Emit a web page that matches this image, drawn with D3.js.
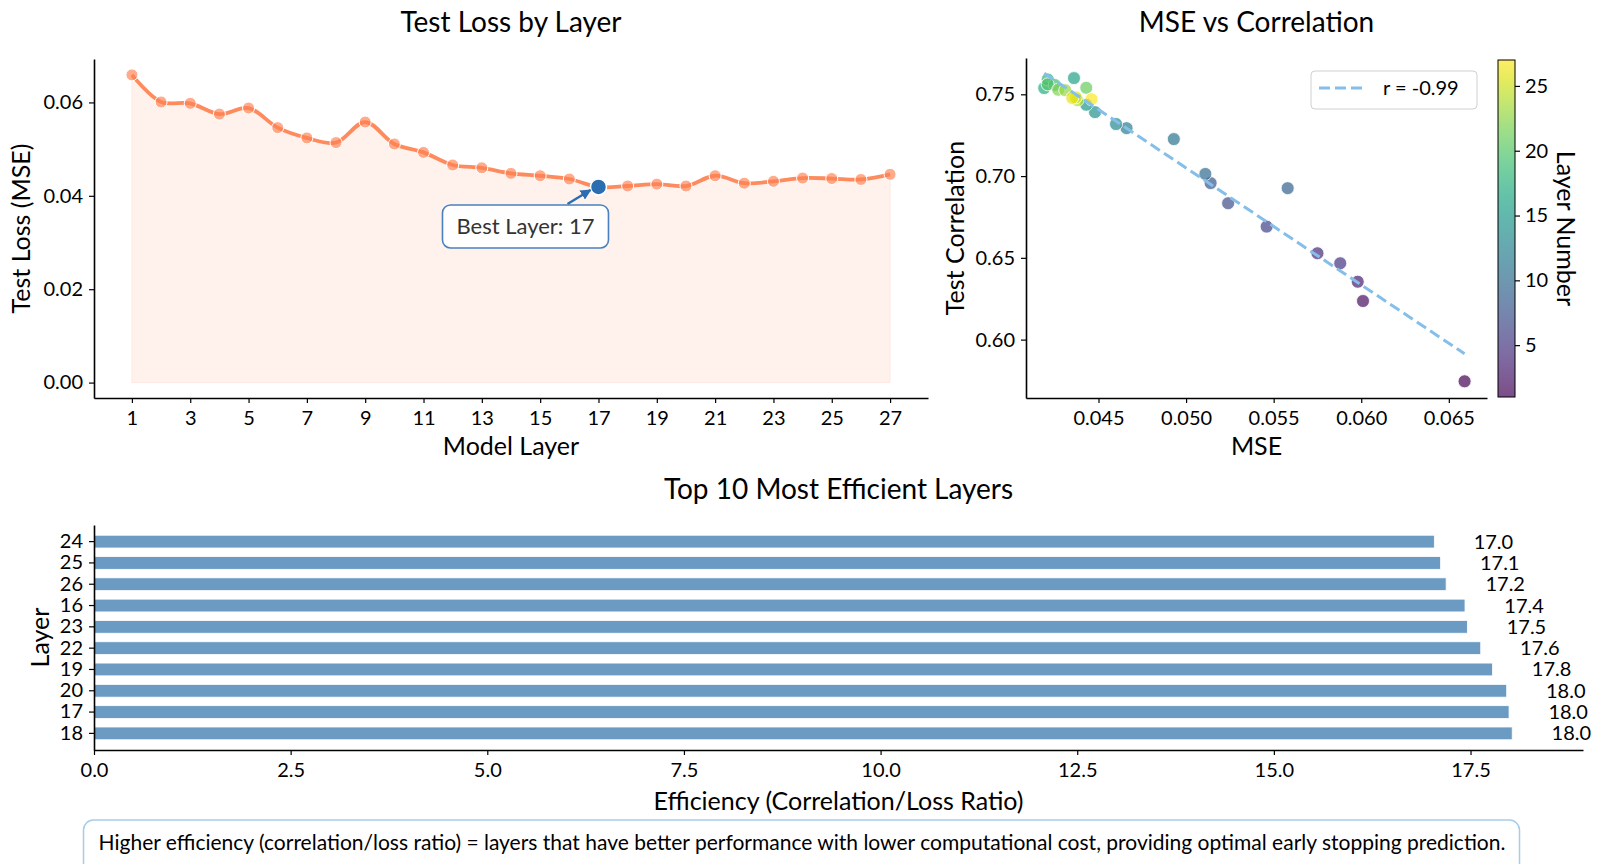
<!DOCTYPE html>
<html>
<head>
<meta charset="utf-8">
<script src="https://cdn.jsdelivr.net/npm/d3@7"></script>
<style>
body { margin: 0; background: #fff; }
svg text { font-family: Lato, "DejaVu Sans", sans-serif; fill: #000; }
</style>
</head>
<body>
<div id="visContainer"></div>
<script>
'use strict';

// data
var layers = [1, 2, 3, 4, 5, 6, 7, 8, 9, 10, 11, 12, 13, 14, 15, 16, 17, 18, 19, 20, 21, 22, 23, 24, 25, 26, 27];
var testLoss = [0.0659, 0.0601, 0.0598, 0.0575, 0.0588, 0.0546, 0.0524, 0.0514, 0.0558, 0.0511, 0.0493, 0.0466, 0.0460, 0.0448,
                0.0443, 0.0436, 0.0419, 0.0421, 0.0425, 0.0421, 0.0443, 0.0427, 0.0431, 0.0438, 0.0437, 0.0435, 0.0446];
var testCorr = [0.5745, 0.6236, 0.6354, 0.6528, 0.6467, 0.6691, 0.6834, 0.6957, 0.6926, 0.7013, 0.7226, 0.7293, 0.7318, 0.7391,
                0.7436, 0.7599, 0.7538, 0.7591, 0.7557, 0.7561, 0.7540, 0.7528, 0.7525, 0.7464, 0.7481, 0.7478, 0.7470];
var effLayers = [24, 25, 26, 16, 23, 22, 19, 20, 17, 18];   // top to bottom
var effValues = [17.04, 17.12, 17.19, 17.43, 17.46, 17.63, 17.78, 17.96, 17.99, 18.03];

var layerTicks = [1, 3, 5, 7, 9, 11, 13, 15, 17, 19, 21, 23, 25, 27];
var lossTicks = [0, 0.02, 0.04, 0.06];
var mseTicks = [0.045, 0.050, 0.055, 0.060, 0.065];
var corrTicks = [0.60, 0.65, 0.70, 0.75];
var cbarTicks = [5, 10, 15, 20, 25];
var effTicks = [0, 2.5, 5, 7.5, 10, 12.5, 15, 17.5];

var bestLayer = 17;
var rLabel = 'r = -0.99';
var noteText = 'Higher efficiency (correlation/loss ratio) = layers that have better performance with lower computational cost, providing optimal early stopping prediction.';

var width = 1600;
var height = 864;
var svg = d3.select('#visContainer')
    .append('svg')
    .attr('width', width)
    .attr('height', height);

// panel frames
var lossBox = { left: 94, right: 928, top: 59, bottom: 398 };
var scatBox = { left: 1026, right: 1487, top: 58, bottom: 398 };
var cbarBox = { left: 1498, right: 1515, top: 60, bottom: 397 };
var effBox = { left: 94, right: 1583, top: 525, bottom: 750 };

var tickFont = 20;
var labelFont = 25;
var titleFont = 28;

function styleAxis(g) {
    g.attr('font-family', null).attr('font-size', null);
    g.selectAll('text').style('font-size', tickFont + 'px');
    g.selectAll('.tick line').attr('stroke-width', 1.2);
    g.select('.domain').attr('stroke-width', 1.6);
}

function addText(x, y, txt, size, anchor) {
    return svg.append('text')
        .attr('x', x).attr('y', y)
        .attr('text-anchor', anchor || 'middle')
        .style('font-size', size + 'px')
        .text(txt);
}

function addVText(x, y, txt, size, angle) {
    return svg.append('text')
        .attr('transform', 'translate(' + x + ',' + y + ') rotate(' + angle + ')')
        .attr('text-anchor', 'middle')
        .attr('dy', '0.35em')
        .style('font-size', size + 'px')
        .text(txt);
}

/* ---------- Test loss by layer ---------- */
function drawLoss() {
    var x = d3.scaleLinear().domain([-0.3, 28.3]).range([lossBox.left, lossBox.right]);
    var y = d3.scaleLinear().domain([-0.0033, 0.0693]).range([lossBox.bottom, lossBox.top]);
    var pts = layers.map(function(l, i) { return { layer: l, loss: testLoss[i] }; });

    var area = d3.area()
        .x(function(d) { return x(d.layer); })
        .y0(y(0))
        .y1(function(d) { return y(d.loss); })
        .curve(d3.curveCatmullRom);
    svg.append('path')
        .attr('d', area(pts))
        .attr('fill', '#ff7f50').attr('fill-opacity', 0.1)
        .attr('stroke', '#ff7f50').attr('stroke-opacity', 0.12);

    var line = d3.line()
        .x(function(d) { return x(d.layer); })
        .y(function(d) { return y(d.loss); })
        .curve(d3.curveCatmullRom);
    svg.append('path')
        .attr('d', line(pts))
        .attr('fill', 'none')
        .attr('stroke', '#fd8b5e')
        .attr('stroke-width', 3.8);

    svg.append('g').selectAll('circle')
        .data(pts.filter(function(d) { return d.layer !== bestLayer; }))
        .enter().append('circle')
        .attr('cx', function(d) { return x(d.layer); })
        .attr('cy', function(d) { return y(d.loss); })
        .attr('r', 6)
        .attr('fill', '#ff7f50').attr('fill-opacity', 0.65)
        .attr('stroke', '#fff').attr('stroke-width', 1);

    var best = pts[bestLayer - 1];
    var bx = x(best.layer), by = y(best.loss);
    svg.append('circle')
        .attr('cx', bx).attr('cy', by).attr('r', 8)
        .attr('fill', '#2a6db1')
        .attr('stroke', '#fff').attr('stroke-width', 1.5);

    // annotation box + arrow
    svg.append('defs').append('marker')
        .attr('id', 'arrowHead')
        .attr('viewBox', '0 0 10 10').attr('refX', 9).attr('refY', 5)
        .attr('markerWidth', 4.5).attr('markerHeight', 4.5)
        .attr('orient', 'auto')
        .append('path').attr('d', 'M0,0 L10,5 L0,10 z').attr('fill', '#2a6db1');
    svg.append('line')
        .attr('x1', bx - 31).attr('y1', by + 17)
        .attr('x2', bx - 8).attr('y2', by + 3)
        .attr('stroke', '#2a6db1').attr('stroke-width', 2.4)
        .attr('marker-end', 'url(#arrowHead)');
    svg.append('rect')
        .attr('x', bx - 156).attr('y', by + 18)
        .attr('width', 166).attr('height', 43).attr('rx', 8)
        .attr('fill', '#fff').attr('fill-opacity', 0.9)
        .attr('stroke', '#4a80bf').attr('stroke-width', 1.6);
    addText(bx - 73, by + 47, 'Best Layer: ' + bestLayer, 22).style('fill', '#333');

    var gx = svg.append('g')
        .attr('transform', 'translate(0,' + lossBox.bottom + ')')
        .call(d3.axisBottom(x).tickValues(layerTicks).tickSize(5).tickSizeOuter(0).tickPadding(8));
    styleAxis(gx);
    var gy = svg.append('g')
        .attr('transform', 'translate(' + lossBox.left + ',0)')
        .call(d3.axisLeft(y).tickValues(lossTicks).tickFormat(d3.format('.2f')).tickSize(5).tickSizeOuter(0).tickPadding(6));
    styleAxis(gy);

    addText((lossBox.left + lossBox.right) / 2, 32, 'Test Loss by Layer', titleFont);
    addText((lossBox.left + lossBox.right) / 2, 455, 'Model Layer', labelFont);
    addVText(21, (lossBox.top + lossBox.bottom) / 2, 'Test Loss (MSE)', labelFont, -90);
}

/* ---------- MSE vs correlation ---------- */
function drawScatter() {
    var x = d3.scaleLinear().domain([0.04086, 0.06718]).range([scatBox.left, scatBox.right]);
    var y = d3.scaleLinear().domain([0.5643, 0.7722]).range([scatBox.bottom, scatBox.top]);
    var color = d3.scaleSequential(d3.interpolateViridis).domain([1, 27]);
    var pts = layers.map(function(l, i) { return { layer: l, mse: testLoss[i], corr: testCorr[i] }; });

    svg.append('g').selectAll('circle')
        .data(pts)
        .enter().append('circle')
        .attr('cx', function(d) { return x(d.mse); })
        .attr('cy', function(d) { return y(d.corr); })
        .attr('r', 6.5)
        .attr('fill', function(d) { return color(d.layer); })
        .attr('fill-opacity', 0.7)
        .attr('stroke', '#fff').attr('stroke-opacity', 0.8).attr('stroke-width', 1);

    // least squares fit line
    var mx = d3.mean(testLoss), my = d3.mean(testCorr);
    var sxy = d3.sum(testLoss, function(v, i) { return (v - mx) * (testCorr[i] - my); });
    var sxx = d3.sum(testLoss, function(v) { return (v - mx) * (v - mx); });
    var slope = sxy / sxx, icpt = my - slope * mx;
    var ext = d3.extent(testLoss);
    svg.append('path')
        .attr('d', d3.line()(ext.map(function(v) { return [x(v), y(icpt + slope * v)]; })))
        .attr('fill', 'none')
        .attr('stroke', '#85bfe9').attr('stroke-width', 3)
        .attr('stroke-dasharray', '11,5');

    var gx = svg.append('g')
        .attr('transform', 'translate(0,' + scatBox.bottom + ')')
        .call(d3.axisBottom(x).tickValues(mseTicks).tickFormat(d3.format('.3f')).tickSize(5).tickSizeOuter(0).tickPadding(8));
    styleAxis(gx);
    var gy = svg.append('g')
        .attr('transform', 'translate(' + scatBox.left + ',0)')
        .call(d3.axisLeft(y).tickValues(corrTicks).tickFormat(d3.format('.2f')).tickSize(5).tickSizeOuter(0).tickPadding(6));
    styleAxis(gy);

    // legend
    svg.append('rect')
        .attr('x', 1311).attr('y', 71).attr('width', 166).attr('height', 38).attr('rx', 4)
        .attr('fill', '#fff').attr('fill-opacity', 0.8)
        .attr('stroke', '#d0d0d0').attr('stroke-width', 1);
    svg.append('line')
        .attr('x1', 1319).attr('x2', 1366).attr('y1', 88).attr('y2', 88)
        .attr('stroke', '#85bfe9').attr('stroke-width', 3).attr('stroke-dasharray', '11,5');
    addText(1383, 88, rLabel, tickFont, 'start').attr('dy', '0.35em');

    // colour bar
    var grad = svg.append('defs').append('linearGradient')
        .attr('id', 'viridisGrad')
        .attr('x1', 0).attr('x2', 0).attr('y1', 1).attr('y2', 0);
    d3.range(0, 1.0001, 0.05).forEach(function(t) {
        grad.append('stop')
            .attr('offset', t)
            .attr('stop-color', d3.interpolateViridis(t))
            .attr('stop-opacity', 0.7);
    });
    svg.append('rect')
        .attr('x', cbarBox.left).attr('y', cbarBox.top)
        .attr('width', cbarBox.right - cbarBox.left).attr('height', cbarBox.bottom - cbarBox.top)
        .attr('fill', 'url(#viridisGrad)')
        .attr('stroke', '#000').attr('stroke-width', 1);
    var cb = d3.scaleLinear().domain([1, 27]).range([cbarBox.bottom, cbarBox.top]);
    var gc = svg.append('g')
        .attr('transform', 'translate(' + cbarBox.right + ',0)')
        .call(d3.axisRight(cb).tickValues(cbarTicks).tickSize(5).tickSizeOuter(0).tickPadding(5));
    styleAxis(gc);
    gc.select('.domain').remove();

    addText((scatBox.left + scatBox.right) / 2, 32, 'MSE vs Correlation', titleFont);
    addText((scatBox.left + scatBox.right) / 2, 455, 'MSE', labelFont);
    addVText(955, (scatBox.top + scatBox.bottom) / 2, 'Test Correlation', labelFont, -90);
    addVText(1566, (cbarBox.top + cbarBox.bottom) / 2, 'Layer Number', labelFont, 90);
}

/* ---------- top 10 efficiency ---------- */
function drawEfficiency() {
    var x = d3.scaleLinear().domain([0, 18.93]).range([effBox.left, effBox.right]);
    var y = d3.scaleBand().domain(effLayers).range([effBox.top, effBox.bottom])
        .paddingInner(0.4).paddingOuter(0.48);
    var rows = effLayers.map(function(l, i) { return { layer: l, eff: effValues[i] }; });

    svg.append('g').selectAll('rect')
        .data(rows)
        .enter().append('rect')
        .attr('x', x(0))
        .attr('y', function(d) { return y(d.layer); })
        .attr('width', function(d) { return x(d.eff) - x(0); })
        .attr('height', y.bandwidth())
        .attr('fill', 'steelblue').attr('fill-opacity', 0.8)
        .attr('stroke', '#fff').attr('stroke-width', 0.8);

    svg.append('g').selectAll('text')
        .data(rows)
        .enter().append('text')
        .attr('x', function(d) { return x(d.eff + 0.5); })
        .attr('y', function(d) { return y(d.layer) + y.bandwidth() / 2; })
        .attr('dy', '0.35em')
        .style('font-size', tickFont + 'px')
        .text(function(d) { return d.eff.toFixed(1); });

    var gx = svg.append('g')
        .attr('transform', 'translate(0,' + effBox.bottom + ')')
        .call(d3.axisBottom(x).tickValues(effTicks).tickFormat(d3.format('.1f')).tickSize(5).tickSizeOuter(0).tickPadding(8));
    styleAxis(gx);
    var gy = svg.append('g')
        .attr('transform', 'translate(' + effBox.left + ',0)')
        .call(d3.axisLeft(y).tickSize(5).tickSizeOuter(0).tickPadding(6));
    styleAxis(gy);

    addText((effBox.left + effBox.right) / 2, 499, 'Top 10 Most Efficient Layers', titleFont);
    addText((effBox.left + effBox.right) / 2, 810, 'Efficiency (Correlation/Loss Ratio)', labelFont);
    addVText(40, (effBox.top + effBox.bottom) / 2, 'Layer', labelFont, -90);
}

function drawNote() {
    svg.append('rect')
        .attr('x', 83.5).attr('y', 820).attr('width', 1436).attr('height', 60).attr('rx', 10)
        .attr('fill', '#fff')
        .attr('stroke', '#a9cce8').attr('stroke-width', 1.5);
    addText(802, 850, noteText, 21);
}

drawLoss();
drawScatter();
drawEfficiency();
drawNote();
</script>
</body>
</html>
